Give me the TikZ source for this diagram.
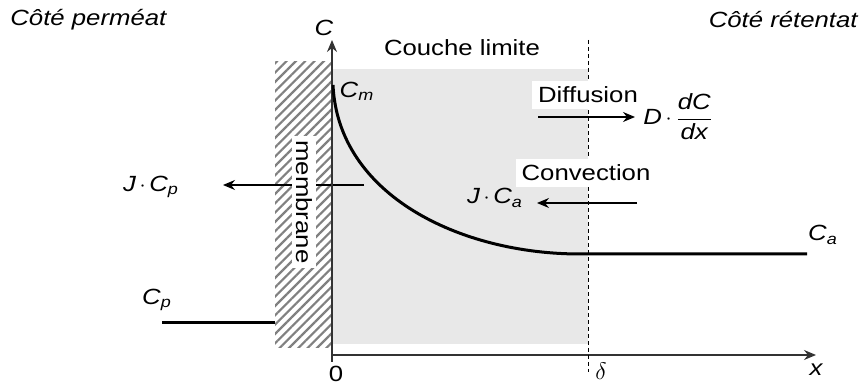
\documentclass[tikz,border=0pt]{standalone}
\usepackage{fontspec}
\setmainfont{Liberation Sans}[FakeStretch=1.17]
\usetikzlibrary{arrows.meta,patterns.meta}
\begin{document}
\begin{tikzpicture}[x=0.5pt,y=-0.5pt,
  lab/.style={font=\fontsize{11}{13}\selectfont, inner sep=0pt},
  ilab/.style={font=\fontsize{11}{13}\selectfont\itshape, inner sep=0pt},
  whitebox/.style={fill=white, inner xsep=3pt, inner ysep=3pt},
  axisline/.style={draw=black!80, line width=0.6pt, -{Stealth[length=6pt,width=5pt,inset=2pt]}},
  flux/.style={draw=black, line width=0.6pt, -{Stealth[length=6pt,width=5pt,inset=2pt]}},
  profile/.style={draw=black, line width=1.5pt},
  limitline/.style={draw=black, line width=0.5pt, dash pattern=on 2pt off 1.5pt},
]
\useasboundingbox (0,0) rectangle (864,385);
% boundary layer
\fill[black!9] (332,69) rectangle (588,344);
% membrane hatch
\fill[white] (275,62) rectangle (331,348);
\fill[pattern={Lines[angle=45,distance=3.3pt,line width=1.1pt]}, pattern color=black!50] (275,62) rectangle (331,348);
% permeate flux
\coordinate (jpstart) at (364,185);
\coordinate (jptip) at (223,185);
\draw[flux] (jpstart) -- (jptip);
\node[ilab] (jcp) at (151,187) {J\,$\cdot$\,C\textsubscript{p}};
\node[lab, fill=white, rotate=-90, inner sep=2pt] (mem) at (304,202) {membrane};
% axes
\coordinate (ybot) at (332,362);
\coordinate (ytop) at (332,40);
\coordinate (xbeg) at (332,355);
\coordinate (xend) at (816,355);
\draw[axisline] (ybot) -- (ytop);
\draw[axisline] (xbeg) -- (xend);
\coordinate (dtop) at (588,40);
\coordinate (dbot) at (588,372);
\draw[limitline] (dtop) -- (dbot);
\node[ilab] (Clab) at (324,28) {C};
\node[lab] (zero) at (336,374) {0};
\node[lab] (delta) at (601,371) {\large$\delta$};
\node[ilab] (xlab) at (816,370) {x};
% titles
\node[ilab, anchor=west] (perm) at (10,20) {Côté perméat};
\node[ilab, anchor=east] (ret) at (858,20) {Côté rétentat};
\node[lab] (couche) at (462,48) {Couche limite};
% concentration profile
\coordinate (cpa) at (162,323);
\coordinate (cpb) at (275,323);
\draw[profile] (cpa) -- (cpb);
\coordinate (cmstart) at (333,85);
\coordinate (cdelta) at (580,254);
\coordinate (caend) at (807,254);
\draw[profile] (cmstart) .. controls (338,195) and (460,254) .. (cdelta) -- (caend);
\node[ilab] (cm) at (357,91) {C\textsubscript{m}};
\node[ilab] (ca) at (823,235) {C\textsubscript{a}};
\node[ilab] (cp) at (157,300) {C\textsubscript{p}};
% diffusion
\node[lab, whitebox] (diff) at (588,95) {Diffusion};
\coordinate (dfa) at (538,117);
\coordinate (dfb) at (635,117);
\draw[flux] (dfa) -- (dfb);
\node[ilab, anchor=west] (dcdx) at (643,117) {D\,$\cdot$\,$\displaystyle\frac{\mbox{\itshape dC}}{\mbox{\itshape dx}}$};
% convection
\node[lab, whitebox] (conv) at (586,173) {Convection};
\coordinate (cva) at (637,203);
\coordinate (cvb) at (537,203);
\draw[flux] (cva) -- (cvb);
\node[ilab] (jca) at (495,198) {J\,$\cdot$\,C\textsubscript{a}};
\end{tikzpicture}
\end{document}
